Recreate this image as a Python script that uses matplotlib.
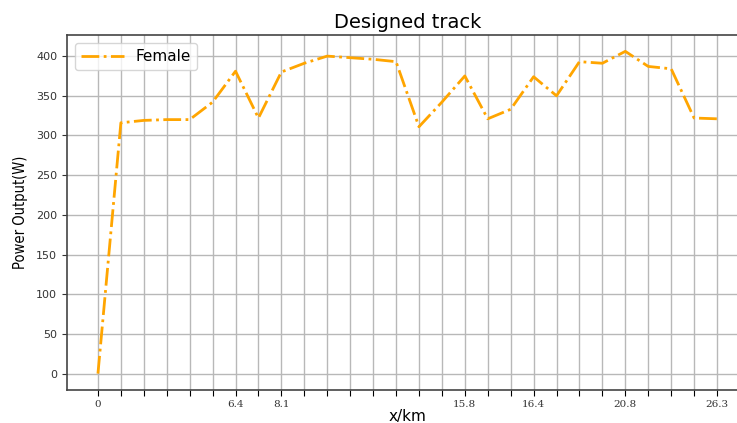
import matplotlib
matplotlib.use("Agg")
import matplotlib.pyplot as plt
import numpy as np

# Power output along the designed track, one value per segment boundary
power_w = [0, 316, 319, 320, 320, 342, 381, 322, 380, 391, 400, 398, 396, 393,
           311, 342, 375, 321, 333, 374, 350, 393, 391, 406, 387, 384, 322, 321]
# Distance labels shown under selected segment boundaries
tick_labels = ["0", "", "", "", "", "", "6.4", "", "8.1", "", "", "", "", "",
               "", "", "15.8", "", "", "16.4", "", "", "", "20.8", "", "", "", "26.3"]
y_ticks = [0, 50, 100, 150, 200, 250, 300, 350, 400]

fig = plt.figure(figsize=(7.37, 4.23), dpi=100)
ax = fig.add_axes([0.0909, 0.0787, 0.924, 0.838])

x = np.arange(len(power_w))
ax.plot(x, power_w, linestyle="-.", color="orange", linewidth=2, label="Female")

ax.set_xticks(x)
ax.set_xticklabels(tick_labels, family="DejaVu Serif", fontsize=7.5, color="#333333")
ax.set_yticks(y_ticks)
ax.tick_params(axis="y", labelsize=8, colors="#333333")
ax.tick_params(axis="x", length=4)
ax.grid(True, color="#b8b8b8", linewidth=1)

for side in ax.spines.values():
    side.set_color("#444444")
    side.set_linewidth(1.2)
ax.spines["right"].set_visible(False)

ax.set_title("Designed track", fontsize=14, pad=5)
ax.set_xlabel("x/km", fontsize=11, labelpad=0)
ax.set_ylabel("Power Output(W)", fontsize=10.5, family="DejaVu Sans",
              fontstretch="condensed", labelpad=6)
ax.legend(loc="upper left", fontsize=11, handlelength=2.8)

fig.savefig("out.png", dpi=100)
